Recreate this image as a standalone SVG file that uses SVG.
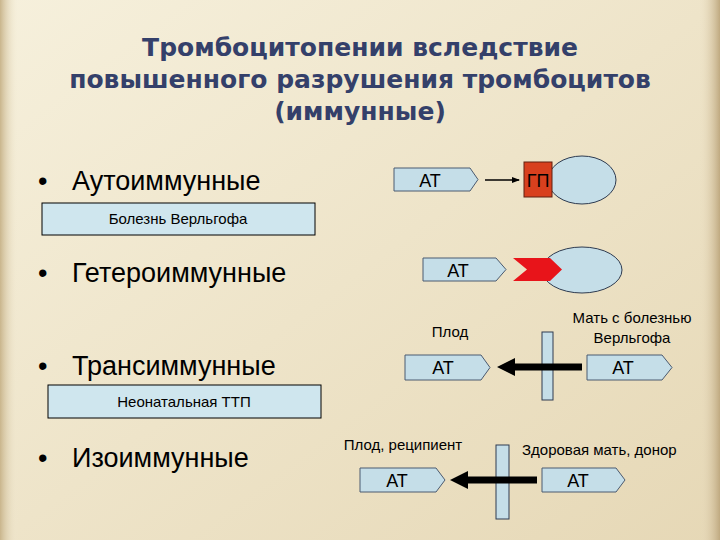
<svg xmlns="http://www.w3.org/2000/svg" width="720" height="540" viewBox="0 0 720 540">
<defs>
<linearGradient id="bg" x1="0" y1="0" x2="1" y2="1"><stop offset="0" stop-color="#F6F0DC"/><stop offset="1" stop-color="#E6D8B6"/></linearGradient>
<linearGradient id="edge" x1="0" y1="0" x2="1" y2="0"><stop offset="0" stop-color="#E9DCC0" stop-opacity="0"/><stop offset="1" stop-color="#BFA980"/></linearGradient>
<linearGradient id="ledge" x1="0" y1="0" x2="1" y2="0"><stop offset="0" stop-color="#C9B58C"/><stop offset="1" stop-color="#F3ECD6" stop-opacity="0"/></linearGradient>
<marker id="ah" markerWidth="8" markerHeight="8" refX="7" refY="4" orient="auto" markerUnits="userSpaceOnUse"><path d="M0,1 L8,4 L0,7 Z" fill="#000"/></marker>
</defs>
<style>
.t{font-family:"Liberation Sans",Arial,sans-serif}
.title{font-family:"DejaVu Sans",Verdana,sans-serif;font-size:25px;font-weight:bold;fill:#34406A;text-anchor:middle}
.bul{font-size:27px;fill:#000}
.dot{font-size:27px;fill:#000}
.box{fill:#CFE6EE;stroke:#000;stroke-width:1}
.sm{font-size:15px;fill:#000}
.lbl{font-size:15px;fill:#000}
.at{fill:#C5DEE8;stroke:#4A5A70;stroke-width:1}
.cell{fill:#C5DEE8;stroke:#2E3B50;stroke-width:1}
.atx{font-size:18px;fill:#000;text-anchor:middle}
.bar{fill:#C5DEE8;stroke:#2E3B50;stroke-width:1}
</style>
<rect width="720" height="540" fill="url(#bg)"/>
<rect x="0" y="0" width="18" height="540" fill="url(#ledge)"/>
<rect x="700" y="0" width="20" height="540" fill="url(#edge)"/>
<g id="title" class="t">
<text class="title" x="360" y="56">Тромбоцитопении вследствие</text>
<text class="title" x="360" y="88">повышенного разрушения тромбоцитов</text>
<text class="title" x="360" y="120">(иммунные)</text>
</g>
<g id="bullets" class="t">
<text class="dot" x="38" y="190">•</text><text class="bul" x="72" y="190">Аутоиммунные</text>
<text class="dot" x="38" y="282">•</text><text class="bul" x="72" y="282">Гетероиммунные</text>
<text class="dot" x="38" y="375">•</text><text class="bul" x="72" y="375">Трансиммунные</text>
<text class="dot" x="38" y="467">•</text><text class="bul" x="72" y="467">Изоиммунные</text>
</g>
<g id="box1" class="t"><rect class="box" x="42" y="203" width="273" height="32"/><text class="sm" x="178" y="224" text-anchor="middle">Болезнь Верльгофа</text></g>
<g id="box2" class="t"><rect class="box" x="48" y="385" width="273" height="33"/><text class="sm" x="184" y="407" text-anchor="middle">Неонатальная ТТП</text></g>
<g id="row1" class="t">
<ellipse class="cell" cx="582" cy="180" rx="34" ry="24"/>
<rect x="524" y="162" width="28" height="35" fill="#D8401E" stroke="#602010" stroke-width="1"/>
<text x="538" y="187" font-size="18" fill="#000" text-anchor="middle">ГП</text>
<path class="at" d="M394,168 H470 L478,179.5 L470,191 H394 Z"/><text class="atx" x="430" y="187">АТ</text>
</g>
<g id="row2" class="t">
<ellipse class="cell" cx="582" cy="270" rx="40" ry="23"/>
<path d="M513,258 H550 L562,269.5 L550,281 H513 L527,269.5 Z" fill="#E8141A"/>
<path class="at" d="M423,258 H496 L506,269.5 L496,281 H423 Z"/><text class="atx" x="458" y="277">АТ</text>
</g>
<g id="row3" class="t">
<text class="lbl" x="450" y="337" text-anchor="middle">Плод</text>
<text class="sm" x="632" y="323" text-anchor="middle">Мать с болезнью</text>
<text class="sm" x="632" y="343" text-anchor="middle">Верльгофа</text>
<rect class="bar" x="542" y="332" width="11" height="68"/>
<path class="at" d="M405,355 H481 L490,367.5 L481,380 H405 Z"/><text class="atx" x="443" y="374">АТ</text>
<path class="at" d="M587,355 H662 L672,367.5 L662,380 H587 Z"/><text class="atx" x="623" y="374">АТ</text>
</g>
<g id="row4" class="t">
<text class="lbl" x="403" y="450" text-anchor="middle">Плод, реципиент</text>
<text class="lbl" x="522" y="455">Здоровая мать, донор</text>
<rect class="bar" x="496" y="445" width="13" height="74"/>
<path class="at" d="M360,468 H436 L445,480 L436,492 H360 Z"/><text class="atx" x="397" y="487">АТ</text>
<path class="at" d="M542,468 H616 L625,480 L616,492 H542 Z"/><text class="atx" x="578" y="487">АТ</text>
</g>
<g id="connectors">
<line x1="485" y1="180" x2="519" y2="180" stroke="#000" stroke-width="1.5" marker-end="url(#ah)"/>
<line x1="582" y1="367" x2="512" y2="367" stroke="#000" stroke-width="7"/>
<path d="M497,367 L515,358 L515,376 Z" fill="#000"/>
<line x1="537" y1="480" x2="465" y2="480" stroke="#000" stroke-width="7"/>
<path d="M450,480 L468,471 L468,489 Z" fill="#000"/>
</g>
</svg>
